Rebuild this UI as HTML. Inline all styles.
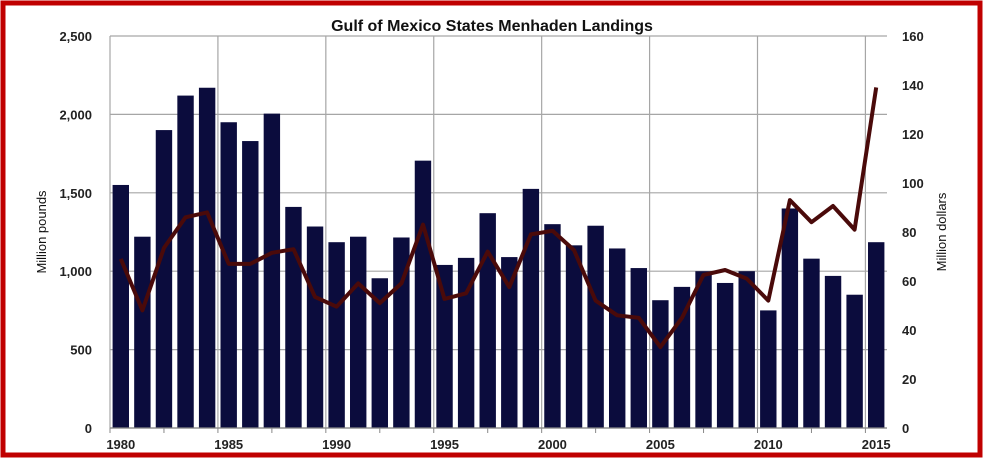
<!DOCTYPE html>
<html><head><meta charset="utf-8"><style>
html,body{margin:0;padding:0;background:#fff;}
svg{display:block;font-family:"Liberation Sans",sans-serif;}
</style></head><body>
<svg id="chart" width="985" height="460" viewBox="0 0 985 460">
<rect x="3" y="3" width="977" height="452" fill="#fff" stroke="#c00000" stroke-width="5"/>
<text x="492" y="31" text-anchor="middle" font-size="16" font-weight="bold" fill="#111">Gulf of Mexico States Menhaden Landings</text>
<text transform="translate(46,232) rotate(-90)" text-anchor="middle" font-size="13" fill="#111">Million pounds</text>
<text transform="translate(946,232) rotate(-90)" text-anchor="middle" font-size="13" fill="#111">Million dollars</text>
<g id="grid"></g><g id="bars"></g><g id="line"></g><g id="axes"></g>
</svg>
<script>
const years=[1980,1981,1982,1983,1984,1985,1986,1987,1988,1989,1990,1991,1992,1993,1994,1995,1996,1997,1998,1999,2000,2001,2002,2003,2004,2005,2006,2007,2008,2009,2010,2011,2012,2013,2014,2015];
const pounds=[1550,1220,1900,2120,2170,1950,1830,2005,1410,1285,1185,1220,955,1215,1705,1040,1085,1370,1090,1525,1300,1165,1290,1145,1020,815,900,1000,925,1000,750,1400,1080,970,850,1185];
const dollars=[69,48,73.5,86,88,67,67,71.5,73,53.5,49.5,59,51,59,83,52.7,55,72,57.5,79,80.5,72.6,52,46,45,33,45,62.5,64.5,61,52,93,84,90.6,81,139];
const leftTicks=[0,500,1000,1500,2000,2500];
const leftTickLabels=["0","500","1,000","1,500","2,000","2,500"];
const rightTicks=[0,20,40,60,80,100,120,140,160];
const xLabelYears=[1980,1985,1990,1995,2000,2005,2010,2015];
const NS="http://www.w3.org/2000/svg";
const L=110,R=887,T=36,B=428;
const n=years.length,cw=(R-L)/n;
const xBand=i=>L+i*cw;
const yL=v=>B-(v/2500)*(B-T);
const yR=v=>B-(v/160)*(B-T);
function mk(tag,attrs,parent){const e=document.createElementNS(NS,tag);for(const k in attrs)e.setAttribute(k,attrs[k]);parent.appendChild(e);return e;}
const grid=document.getElementById('grid'),bars=document.getElementById('bars'),line=document.getElementById('line'),axes=document.getElementById('axes');
leftTicks.forEach((v,i)=>{
 const g=mk('line',{x1:L,x2:R,y1:yL(v),y2:yL(v),stroke:'#a6a6a6','stroke-width':1.2},grid);
 
 
 const t=mk('text',{x:92,y:yL(v)+5,'text-anchor':'end','font-size':13,'font-weight':'bold',fill:'#222'},axes);
 t.textContent=leftTickLabels[i];
 
 
});
rightTicks.forEach(v=>{
 const t=mk('text',{x:902,y:yR(v)+5,'font-size':13,'font-weight':'bold',fill:'#222'},axes);
 t.textContent=String(v);
 
 
});
xLabelYears.forEach(y=>{
 const i=years.indexOf(y);
 const g=mk('line',{x1:xBand(i),x2:xBand(i),y1:T,y2:B,stroke:'#a6a6a6','stroke-width':1.2},grid);
 
 
 const t=mk('text',{x:xBand(i)+cw/2,y:449,'text-anchor':'middle','font-size':13,'font-weight':'bold',fill:'#222'},axes);
 t.textContent=String(y);
 
 
});
for(let k=0;k<=n;k+=2.5){const x=L+k*cw;const tk=mk('line',{x1:x,x2:x,y1:B,y2:B+5,stroke:'#888'},axes);
 
 }
pounds.forEach((v,i)=>{
 const w=cw*0.76;
 const b=mk('rect',{x:xBand(i)+(cw-w)/2,y:yL(v),width:w,height:B-yL(v),fill:'#0b0c3d'},bars);
 
 
});
const pts=dollars.map((v,i)=>(xBand(i)+cw/2).toFixed(1)+','+yR(v).toFixed(1)).join(' ');
const pl=mk('polyline',{points:pts,fill:'none',stroke:'#4a0a0a','stroke-width':4,'stroke-linejoin':'round'},line);


const ax=mk('line',{x1:L,x2:R,y1:B,y2:B,stroke:'#888','stroke-width':1.2},axes);


</script>
</body></html>
